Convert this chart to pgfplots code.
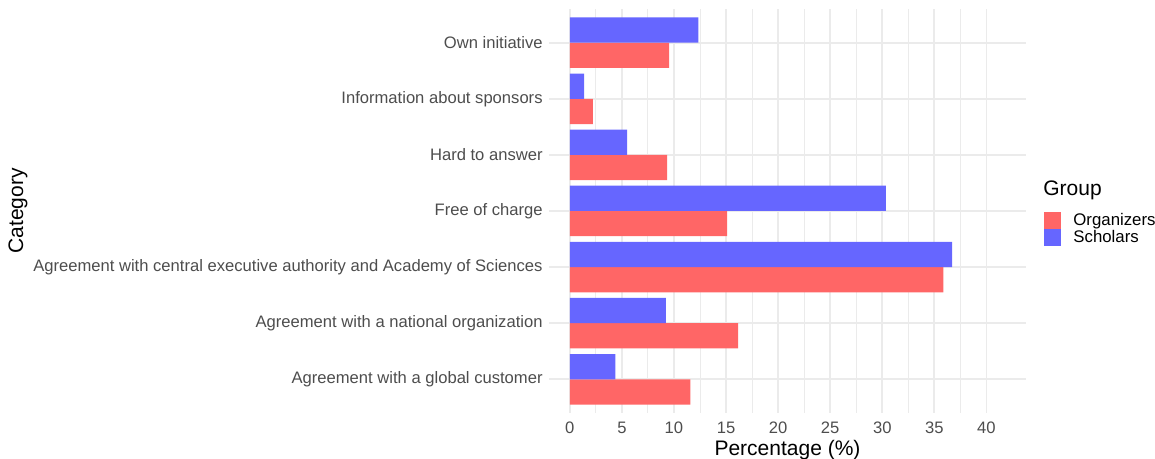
\documentclass[border=0pt]{standalone}
\usepackage{fontspec}
\setmainfont{Liberation Sans}
\usepackage{pgfplots}
\pgfplotsset{compat=1.18}

\definecolor{orgred}{HTML}{FF6666}
\definecolor{schblue}{HTML}{6666FF}
\definecolor{gridgray}{HTML}{EBEBEB}
\definecolor{ticktext}{HTML}{4D4D4D}

\newcommand{\ticksize}{\fontsize{8.3}{10}\selectfont}
\newcommand{\titlesize}{\fontsize{10.5}{12}\selectfont}

% 1 = bottom row of the chart, 7 = top row
\pgfplotstableread{
pos organizers scholars
1 11.58 4.38
2 16.16 9.22
3 35.87 36.70
4 15.10 30.34
5 9.34 5.50
6 2.21 1.38
7 9.54 12.35
}\shares

\begin{document}
\begin{tikzpicture}
\useasboundingbox (0,0) rectangle (577.5pt,229.5pt);
\begin{axis}[
    at={(274.5pt,23pt)}, anchor=south west,
    scale only axis,
    width=238.5pt, height=202pt,
    xbar, bar width=0.45,
    xmin=-2, xmax=43.8,
    ymin=0.4, ymax=7.6,
    xtick={0,5,...,40},
    minor x tick num=1,
    ytick={1,...,7},
    yticklabels={Agreement with a global customer,
        Agreement with a national organization,
        Agreement with central executive authority and Academy of Sciences,
        Free of charge, Hard to answer,
        Information about sponsors, Own initiative},
    axis line style={draw=none},
    major tick length=0pt, minor tick length=0pt,
    xmajorgrids, xminorgrids, ymajorgrids,
    major grid style={gridgray, line width=0.9pt},
    minor grid style={gridgray, line width=0.5pt},
    /pgf/number format/assume math mode=true,
    tick label style={font=\ticksize, text=ticktext, inner sep=0pt},
    xticklabel style={anchor=north, yshift=-4.5pt},
    yticklabel style={anchor=east, xshift=-3pt},
    xlabel={Percentage (\%)},
    ylabel={Category},
    label style={font=\titlesize},
    xlabel style={at={(axis description cs:0.5,0)}, anchor=center, yshift=-18.5pt},
    ylabel style={at={(axis description cs:-1.113,0.5)}, anchor=center},
    clip=false,
    legend style={at={(axis description cs:1,0.455)}, anchor=west,
        xshift=9pt, draw=none, fill=none, inner sep=0pt,
        font=\fontsize{8.4}{10}\selectfont, row sep=-1pt,
        nodes={inner sep=1pt},
        /tikz/every odd column/.append style={column sep=5pt}},
    legend cell align=left,
    legend image code/.code={\fill[#1] (0pt,-4.25pt) rectangle (8.5pt,4.25pt);},
]
\addplot[fill=orgred, draw=none, bar shift=-0.225] table[x=organizers, y=pos] {\shares};
\addplot[fill=schblue, draw=none, bar shift=0.225] table[x=scholars, y=pos] {\shares};
\legend{Organizers, Scholars}
\node[anchor=west, inner sep=0pt, xshift=8.5pt, font=\titlesize]
    at (axis description cs:1,0.55) {Group};
\end{axis}
\end{tikzpicture}
\end{document}
